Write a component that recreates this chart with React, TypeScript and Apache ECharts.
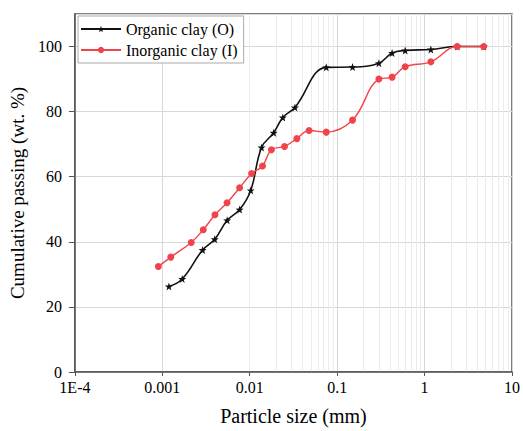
import React, { useEffect, useRef } from "react";
import * as echarts from "echarts";

const sizesO = [0.00119, 0.00169, 0.00289, 0.00398, 0.00552, 0.00766, 0.01026, 0.01365, 0.0188, 0.0239, 0.0329, 0.075, 0.15, 0.3, 0.425, 0.6, 1.18, 2.36, 4.75];
const passO = [26.3, 28.6, 37.5, 40.8, 46.6, 49.9, 55.8, 69.0, 73.5, 78.2, 81.3, 93.6, 93.7, 94.9, 98.0, 98.8, 99.1, 100, 100];
const sizesI = [0.0009, 0.00125, 0.00214, 0.00294, 0.0040, 0.0055, 0.00766, 0.0105, 0.014, 0.0177, 0.025, 0.0346, 0.0477, 0.075, 0.15, 0.3, 0.425, 0.6, 1.18, 2.36, 4.75];
const passI = [32.4, 35.3, 39.8, 43.7, 48.3, 52.0, 56.6, 61.0, 63.3, 68.3, 69.3, 71.7, 74.2, 73.7, 77.4, 90.0, 90.6, 93.8, 95.3, 100, 100];
const xTickLabels: Record<string, string> = { "0.0001": "1E-4", "0.001": "0.001", "0.01": "0.01", "0.1": "0.1", "1": "1", "10": "10" };

const FONT = "Liberation Serif";

export default function App() {
  const ref = useRef<HTMLDivElement>(null);
  useEffect(() => {
    if (!ref.current) return;
    const chart = echarts.init(ref.current, null, { renderer: "svg" });
    const minorLines: number[] = [];
    for (let e = -4; e < 1; e++) {
      for (let m = 2; m <= 9; m++) minorLines.push(Number((m * Math.pow(10, e)).toPrecision(3)));
    }
    chart.setOption({
      animation: false,
      grid: { left: 69, right: 10, top: 14, bottom: 58, show: true, borderColor: "#555", borderWidth: 1.5, backgroundColor: "transparent" },
      legend: {
        data: ["Organic clay (O)", "Inorganic clay (I)"],
        orient: "vertical",
        left: 78,
        top: 16,
        itemWidth: 40,
        itemHeight: 8,
        itemGap: 5,
        padding: [5, 6, 5, 2],
        borderColor: "#aaa",
        borderWidth: 1,
        borderRadius: 0,
        backgroundColor: "#fff",
        textStyle: { fontFamily: FONT, fontSize: 16, color: "#000" },
      },
      xAxis: {
        type: "log",
        logBase: 10,
        min: 0.0001,
        max: 10,
        name: "Particle size (mm)",
        nameLocation: "middle",
        nameGap: 34,
        nameTextStyle: { fontFamily: FONT, fontSize: 20, color: "#000" },
        axisLine: { show: true, lineStyle: { color: "#555", width: 1.5 } },
        axisTick: { show: true, length: 4, lineStyle: { color: "#555" } },
        axisLabel: {
          fontFamily: FONT,
          fontSize: 16,
          color: "#000",
          margin: 7,
          formatter: (v: number) => xTickLabels[String(Number(v.toPrecision(3)))] ?? String(v),
        },
        splitLine: { show: true, lineStyle: { color: "#d8d8d8", width: 1 } },
      },
      yAxis: {
        type: "value",
        min: 0,
        max: 110,
        interval: 20,
        name: "Cumulative passing (wt. %)",
        nameLocation: "middle",
        nameGap: 44,
        nameTextStyle: { fontFamily: FONT, fontSize: 19, color: "#000" },
        axisLine: { show: true, lineStyle: { color: "#555", width: 1.5 } },
        axisTick: { show: true, length: 6, lineStyle: { color: "#555" } },
        axisLabel: { fontFamily: FONT, fontSize: 16, color: "#000", margin: 13, showMaxLabel: false },
        splitLine: { show: true, lineStyle: { color: "#d8d8d8", width: 1 } },
      },
      series: [
        {
          name: "grid-minor",
          type: "line",
          data: [],
          silent: true,
          z: 0,
          markLine: {
            silent: true,
            z: 0,
            symbol: "none",
            label: { show: false },
            lineStyle: { color: "#ececec", type: "solid", width: 1 },
            data: minorLines.map((v) => ({ xAxis: v })),
          },
        },
        {
          name: "Organic clay (O)",
          type: "line",
          smooth: 0.4,
          data: sizesO.map((s, i) => [s, passO[i]]),
          symbol: "path://M0,-10 L2.35,-3.24 L9.51,-3.09 L3.8,1.24 L5.88,8.09 L0,4 L-5.88,8.09 L-3.8,1.24 L-9.51,-3.09 L-2.35,-3.24 Z",
          symbolSize: 8,
          itemStyle: { color: "#111" },
          lineStyle: { color: "#111", width: 1.6 },
          z: 3,
        },
        {
          name: "Inorganic clay (I)",
          type: "line",
          smooth: 0.4,
          data: sizesI.map((s, i) => [s, passI[i]]),
          symbol: "circle",
          symbolSize: 7,
          itemStyle: { color: "#f0434a" },
          lineStyle: { color: "#f0434a", width: 1.4 },
          z: 4,
        },
      ],
    });
    return () => chart.dispose();
  }, []);
  return <div ref={ref} style={{ width: 523, height: 431, position: "absolute", left: 0, top: 0 }} />;
}
